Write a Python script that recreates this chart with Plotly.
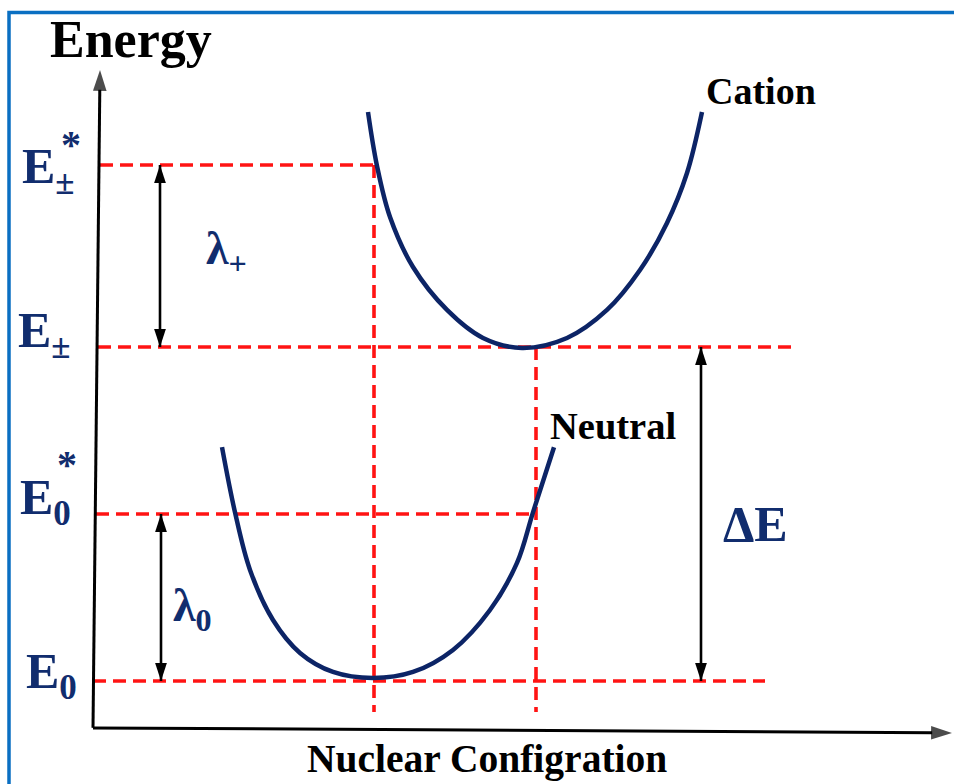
import plotly.graph_objects as go

# ---------------- data (arbitrary units) ----------------
# energy levels: E0, E0*, E±, E±*
level_names = ["E0", "E0*", "E±", "E±*"]
level_E = [0.0, 1.0, 2.0, 3.09]
# horizontal reference (dashed) lines: start / end along nuclear coordinate
level_q_start = [0.0, 0.03, 0.05, 0.07]
level_q_end = [6.72, 4.42, 7.02, 2.84]

# vertical reference (dashed) lines at the two equilibrium geometries
vert_q = [2.81, 4.43]
vert_top = [3.09, 2.0]
vert_bottom = [-0.186, -0.186]

# neutral potential curve
neutral_q = [1.29, 1.42, 1.57, 1.80, 2.07, 2.40, 2.80, 3.20, 3.60, 3.97, 4.24, 4.40, 4.61]
neutral_E = [1.40, 1.01, 0.665, 0.365, 0.168, 0.054, 0.018, 0.054, 0.186, 0.425, 0.707, 1.01, 1.40]

# cation potential curve
cation_q = [2.75, 2.84, 2.97, 3.20, 3.54, 3.90, 4.29, 4.74, 5.14, 5.47, 5.74, 5.94, 6.09]
cation_E = [3.407, 3.084, 2.778, 2.479, 2.222, 2.054, 1.994, 2.054, 2.222, 2.461, 2.743, 3.042, 3.407]

# double arrows: (q, E_low, E_high)
arrow_q = [0.67, 0.68, 6.08]
arrow_low = [2.0, 0.0, 0.0]
arrow_high = [3.09, 1.0, 2.0]

# axes (origin, top of energy axis, end of configuration axis)
axis_origin = (0.0, -0.281)
axis_y_tip = (0.07, 3.659)
axis_x_tip = (8.59, -0.311)

X_RANGE = [-0.93, 8.61]
Y_RANGE = [-0.617, 4.078]

W, H = 954, 784
RED = "#ff1414"
NAVY = "#0c2466"
TXT = "#112d6e"
FONT = "Liberation Serif, Times New Roman, serif"


def P(xp, yp):
    return xp / W, 1 - yp / H


fig = go.Figure()

# dashed horizontal lines
for E, q0, q1 in zip(level_E, level_q_start, level_q_end):
    fig.add_trace(go.Scatter(x=[q0, q1], y=[E, E], mode="lines",
                             line=dict(color=RED, width=3.6, dash="13px,7px"),
                             hoverinfo="skip"))
# dashed vertical lines
for q, t, b in zip(vert_q, vert_top, vert_bottom):
    fig.add_trace(go.Scatter(x=[q, q], y=[t, b], mode="lines",
                             line=dict(color=RED, width=3.6, dash="13px,7px"),
                             hoverinfo="skip"))

# curves
fig.add_trace(go.Scatter(x=neutral_q, y=neutral_E, mode="lines",
                         line=dict(color=NAVY, width=4.5, shape="spline", smoothing=1.0),
                         hoverinfo="skip"))
fig.add_trace(go.Scatter(x=cation_q, y=cation_E, mode="lines",
                         line=dict(color=NAVY, width=4.5, shape="spline", smoothing=1.0),
                         hoverinfo="skip"))

# axes with arrow tips
for tip in (axis_y_tip, axis_x_tip):
    fig.add_trace(go.Scatter(x=[axis_origin[0], tip[0]], y=[axis_origin[1], tip[1]],
                             mode="lines+markers",
                             line=dict(color="black", width=3),
                             marker=dict(symbol="arrow", size=[0, 22], angleref="previous",
                                         color="black", line=dict(width=0)),
                             hoverinfo="skip"))

# double-headed arrows
for q, lo, hi in zip(arrow_q, arrow_low, arrow_high):
    fig.add_trace(go.Scatter(x=[q, q], y=[lo, hi], mode="lines+markers",
                             line=dict(color="black", width=2.6),
                             marker=dict(symbol="arrow", size=19, angle=[180, 0],
                                         color="black", line=dict(width=0)),
                             hoverinfo="skip"))

ann = []


def label(text, xp, yp, size, color="black", xanchor="center"):
    x, y = P(xp, yp)
    ann.append(dict(x=x, y=y, xref="paper", yref="paper", text=text, showarrow=False,
                    xanchor=xanchor, yanchor="middle",
                    font=dict(family=FONT, size=size, color=color, weight="bold")))


label("Energy", 131, 40, 52)
label("Cation", 761, 91, 38)
label("Neutral", 613, 426, 38.5)
label("Nuclear Configration", 487, 759, 39.5)

# level labels (E with subscript; asterisk placed above the subscript)
label("E<sub>±</sub>", 20, 170, 50, TXT, "left")
label("*", 71, 144, 40, TXT)
label("E<sub>±</sub>", 16, 334, 50, TXT, "left")
label("E<sub>0</sub>", 18, 501, 50, TXT, "left")
label("*", 67, 464, 40, TXT)
label("E<sub>0</sub>", 24, 675, 50, TXT, "left")

label("λ<sub>+</sub>", 204, 252, 46, TXT, "left")
label("λ<sub>0</sub>", 171, 609, 46, TXT, "left")
label("ΔE", 755, 524, 50, TXT)

fig.update_layout(
    width=W, height=H,
    margin=dict(l=0, r=0, t=0, b=0),
    paper_bgcolor="white", plot_bgcolor="white",
    showlegend=False,
    xaxis=dict(range=X_RANGE, visible=False, fixedrange=True),
    yaxis=dict(range=Y_RANGE, visible=False, fixedrange=True),
    annotations=ann,
    shapes=[dict(type="rect", xref="paper", yref="paper",
                 x0=9 / W, x1=1.02, y0=-0.02, y1=1 - 12.5 / H,
                 line=dict(color="#0a6fc2", width=3.5))],
)

fig.write_html("out.html")
